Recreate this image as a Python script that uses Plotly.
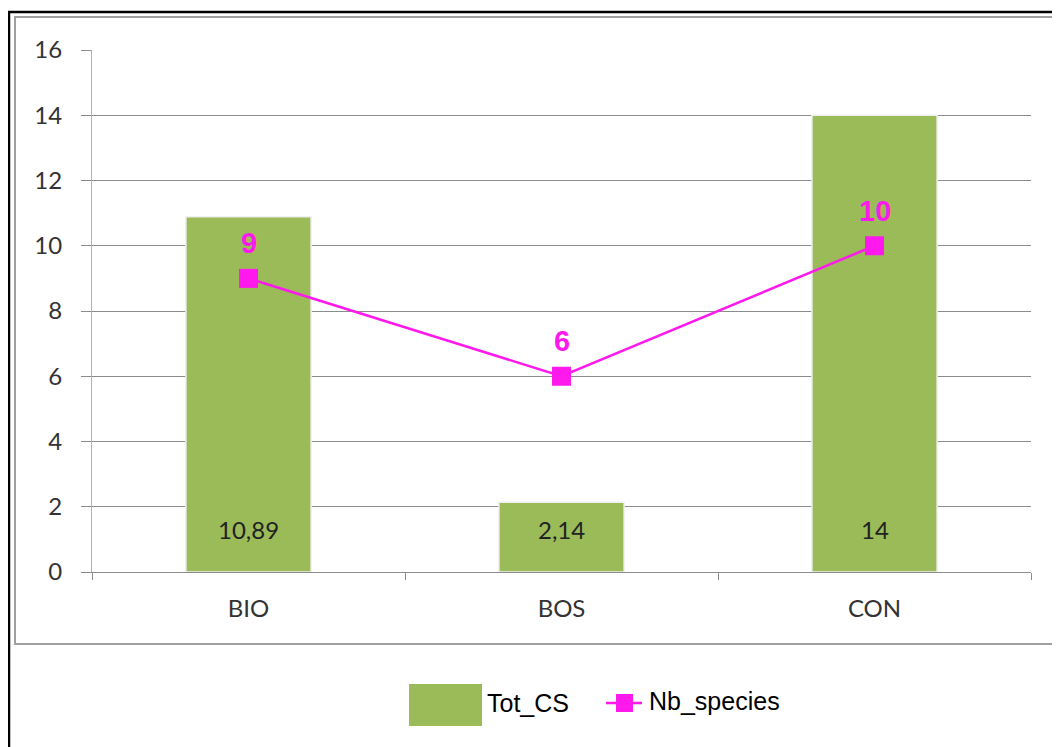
import plotly.graph_objects as go

# data
categories = ['BIO', 'BOS', 'CON']
tot_cs = [10.89, 2.14, 14]
tot_cs_labels = ['10,89', '2,14', '14']
nb_species = [9, 6, 10]
y_ticks = [0, 2, 4, 6, 8, 10, 12, 14, 16]

GREEN = '#9BBB59'
MAGENTA = '#FF19EC'
GRID = '#8C8C8C'

# the page body adds an 8px margin, so the figure is 8px smaller
OFF = 8
W, H = 1060 - OFF, 747 - OFF
# plot area in page pixels
X0, X1, Y0, Y1 = 92, 1031, 50, 572
L, T = X0 - OFF, Y0 - OFF
R, B = W - (X1 - OFF), H - (Y1 - OFF)


def px(x):
    return (x - X0) / (X1 - X0)


def py(y):
    return (Y1 - y) / (Y1 - Y0)


fig = go.Figure()

fig.add_trace(go.Bar(
    x=categories, y=tot_cs, width=0.4, name='Tot_CS',
    marker=dict(color=GREEN, line=dict(color='#F0F0F0', width=1.5)),
    showlegend=False, hoverinfo='x+y'))

fig.add_trace(go.Scatter(
    x=categories, y=nb_species, name='Nb_species', mode='lines+markers',
    line=dict(color=MAGENTA, width=2.5),
    marker=dict(symbol='square', size=19, color=MAGENTA),
    showlegend=False))

# value labels on bars (near the base)
for c, lab in zip(categories, tot_cs_labels):
    fig.add_annotation(x=c, y=0, text=lab, showarrow=False, yshift=43,
                       font=dict(family='Lato', size=24, color='#222222'))

# value labels above line markers
for c, v in zip(categories, nb_species):
    fig.add_annotation(x=c, y=v, text='<b>%d</b>' % v, showarrow=False, yshift=35,
                       font=dict(family='Liberation Sans', size=29, color=MAGENTA))

# outer frames
shapes = [
    dict(type='rect', xref='paper', yref='paper', x0=px(9), x1=px(1075),
         y0=py(760), y1=py(12), line=dict(color='black', width=2.5), layer='below'),
    dict(type='rect', xref='paper', yref='paper', x0=px(15), x1=px(1075),
         y0=py(644), y1=py(17), line=dict(color='#A0A0A0', width=2), layer='below'),
    # custom legend
    dict(type='rect', xref='paper', yref='paper', x0=px(409), x1=px(482),
         y0=py(726), y1=py(684), fillcolor=GREEN, line=dict(width=0)),
    dict(type='line', xref='paper', yref='paper', x0=px(606), x1=px(642),
         y0=py(703), y1=py(703), line=dict(color=MAGENTA, width=2.5)),
    dict(type='rect', xref='paper', yref='paper', x0=px(616), x1=px(633),
         y0=py(712), y1=py(694), fillcolor=MAGENTA, line=dict(width=0)),
]
fig.add_annotation(xref='paper', yref='paper', x=px(485), y=py(703), text='Tot_CS',
                   xanchor='left', yanchor='middle', showarrow=False,
                   font=dict(family='Liberation Sans', size=25, color='black'))
fig.add_annotation(xref='paper', yref='paper', x=px(647), y=py(701), text='Nb_species',
                   xanchor='left', yanchor='middle', showarrow=False,
                   font=dict(family='Liberation Sans', size=25, color='black'))

fig.update_layout(
    width=W, height=H,
    margin=dict(l=L, r=R, t=T, b=B),
    paper_bgcolor='white', plot_bgcolor='white',
    shapes=shapes,
    xaxis=dict(showgrid=False, showline=True, linecolor=GRID, linewidth=1,
               ticks='outside', tickson='boundaries', ticklen=7, tickcolor=GRID,
               tickfont=dict(family='Lato', size=24, color='#333333'),
               ticklabelstandoff=15),
    yaxis=dict(range=[0, 16], tickvals=y_ticks, showgrid=True, gridcolor=GRID,
               gridwidth=1, showline=True, linecolor='#B0B0B0', linewidth=1,
               ticks='outside', ticklen=10, tickcolor=GRID,
               tickfont=dict(family='Lato', size=24, color='#333333'),
               ticklabelstandoff=14, zeroline=False),
)

fig.write_html('out.html')
